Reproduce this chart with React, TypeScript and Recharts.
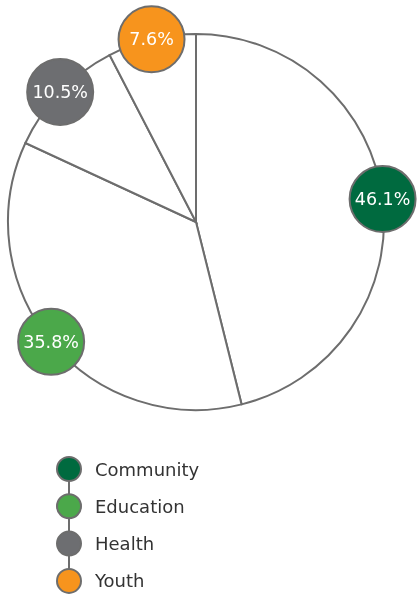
import { PieChart, Pie, Cell, Legend } from 'recharts'

const categories = ['Community', 'Education', 'Health', 'Youth']
const shares = [46.1, 35.8, 10.5, 7.6]
const colors = ['#006a3f', '#4ba84a', '#6d6e71', '#f7941d']

const data = categories.map((name, i) => ({ name, value: shares[i], color: colors[i] }))

const RADIAN = Math.PI / 180
const FONT = '"DejaVu Sans", sans-serif'

function BubbleLabel(props: any) {
  const { cx, cy, midAngle, outerRadius, index } = props
  const x = cx + outerRadius * Math.cos(-midAngle * RADIAN)
  const y = cy + outerRadius * Math.sin(-midAngle * RADIAN)
  return (
    <g>
      <circle cx={x} cy={y} r={33} fill={colors[index]} stroke="#6d6d6d" strokeWidth={2} />
      <text x={x} y={y} fill="#fff" fontSize={17.5} fontFamily={FONT} textAnchor="middle" dominantBaseline="central">
        {`${shares[index]}%`}
      </text>
    </g>
  )
}

function StackLegend() {
  const gap = 37.3
  return (
    <svg width={220} height={139} style={{ display: 'block', overflow: 'visible' }}>
      <line x1={14} y1={14} x2={14} y2={14 + gap * 3} stroke="#6d6d6d" strokeWidth={2} />
      {categories.map((name, i) => (
        <g key={name}>
          <circle cx={14} cy={14 + gap * i} r={12} fill={colors[i]} stroke="#6d6d6d" strokeWidth={2} />
          <text x={40} y={14 + gap * i} fill="#333" fontSize={18} fontFamily={FONT} dominantBaseline="central">
            {name}
          </text>
        </g>
      ))}
    </svg>
  )
}

export default function App() {
  return (
    <div style={{ position: 'fixed', left: 0, top: 0, width: 417, height: 594, overflow: 'hidden' }}>
      <PieChart width={417} height={594} margin={{ top: 0, right: 0, bottom: 0, left: 0 }}>
        <Pie
          data={data}
          dataKey="value"
          nameKey="name"
          cx={196}
          cy={222}
          outerRadius={188}
          startAngle={90}
          endAngle={-270}
          fill="#fff"
          stroke="#6d6d6d"
          strokeWidth={2}
          label={BubbleLabel}
          labelLine={false}
          isAnimationActive={false}
        >
          {data.map((d) => (
            <Cell key={d.name} fill="#fff" />
          ))}
        </Pie>
        <Legend
          content={<StackLegend />}
          wrapperStyle={{ position: 'absolute', left: 55, top: 455, width: 220, height: 139 }}
        />
      </PieChart>
    </div>
  )
}
